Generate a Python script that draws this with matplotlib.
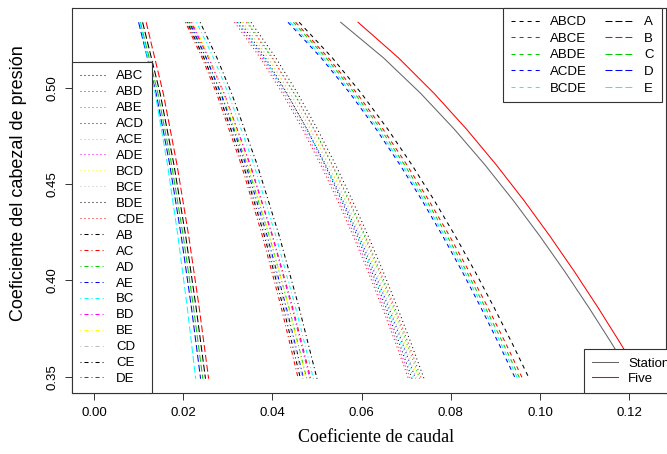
import matplotlib
matplotlib.use("Agg")
import matplotlib.pyplot as plt
from matplotlib.lines import Line2D

plt.rcParams['lines.scale_dashes'] = False
plt.rcParams['font.family'] = ['Liberation Sans', 'DejaVu Sans']

# ---------------- data ----------------
y_single = [0.534, 0.497, 0.460, 0.423, 0.386, 0.349]
y_pair = [0.534, 0.5155, 0.497, 0.460, 0.423, 0.386, 0.349]
y_fine = [0.534, 0.5155, 0.497, 0.4785, 0.460, 0.4415, 0.423, 0.4045,
          0.386, 0.3675, 0.349]

# single fans
A = [0.0109, 0.01483, 0.01793, 0.02056, 0.02289, 0.0250]
B = [0.0117, 0.01554, 0.01861, 0.02124, 0.02358, 0.0257]
C = [0.0104, 0.01434, 0.01741, 0.02001, 0.02231, 0.0244]
D = [0.0100, 0.01394, 0.01699, 0.01956, 0.02184, 0.0239]
E = [0.0103, 0.01374, 0.01648, 0.01882, 0.02091, 0.0228]

# two fans
AB = [0.0238, 0.02757, 0.03087, 0.03660, 0.04155, 0.04597, 0.0500]
AC = [0.0217, 0.02569, 0.02914, 0.03503, 0.04007, 0.04454, 0.0486]
AD = [0.0212, 0.02514, 0.02854, 0.03435, 0.03931, 0.04371, 0.0477]
AE = [0.0214, 0.02516, 0.02843, 0.03404, 0.03884, 0.04311, 0.0470]
BC = [0.0230, 0.02680, 0.03012, 0.03586, 0.04079, 0.04519, 0.0492]
BD = [0.0219, 0.02581, 0.02919, 0.03500, 0.03997, 0.04438, 0.0484]
BE = [0.0222, 0.02587, 0.02908, 0.03462, 0.03938, 0.04363, 0.0475]
CD = [0.0207, 0.02459, 0.02794, 0.03366, 0.03854, 0.04287, 0.0468]
CE = [0.0209, 0.02465, 0.02790, 0.03346, 0.03822, 0.04245, 0.0463]
DE = [0.0205, 0.02425, 0.02749, 0.03303, 0.03777, 0.04198, 0.0458]

# three fans
ABC = [0.0352, 0.04078, 0.04568, 0.05010, 0.05417, 0.05794, 0.06149, 0.06485, 0.06803, 0.07108, 0.0740]
ABD = [0.0342, 0.03989, 0.04487, 0.04935, 0.05345, 0.05726, 0.06083, 0.06420, 0.06741, 0.07047, 0.0734]
ABE = [0.0345, 0.04005, 0.04492, 0.04931, 0.05335, 0.05709, 0.06061, 0.06393, 0.06709, 0.07011, 0.0730]
ACD = [0.0321, 0.03804, 0.04317, 0.04776, 0.05194, 0.05581, 0.05942, 0.06283, 0.06607, 0.06915, 0.0721]
ACE = [0.0323, 0.03812, 0.04316, 0.04767, 0.05179, 0.05561, 0.05918, 0.06254, 0.06574, 0.06878, 0.0717]
ADE = [0.0320, 0.03774, 0.04272, 0.04717, 0.05124, 0.05500, 0.05853, 0.06185, 0.06501, 0.06802, 0.0709]
BCD = [0.0332, 0.03899, 0.04403, 0.04855, 0.05268, 0.05651, 0.06010, 0.06349, 0.06670, 0.06976, 0.0727]
BCE = [0.0334, 0.03907, 0.04402, 0.04847, 0.05254, 0.05632, 0.05986, 0.06320, 0.06637, 0.06940, 0.0723]
BDE = [0.0328, 0.03843, 0.04333, 0.04773, 0.05176, 0.05550, 0.05900, 0.06230, 0.06544, 0.06843, 0.0713]
CDE = [0.0315, 0.03728, 0.04228, 0.04675, 0.05083, 0.05460, 0.05813, 0.06146, 0.06461, 0.06762, 0.0705]

# four fans
ABCD = [0.0460, 0.05345, 0.05998, 0.06587, 0.07127, 0.07630, 0.08101, 0.08546, 0.08969, 0.09373, 0.0976]
ABCE = [0.0452, 0.05256, 0.05900, 0.06481, 0.07014, 0.07509, 0.07974, 0.08413, 0.08830, 0.09228, 0.0961]
ABDE = [0.0447, 0.05206, 0.05850, 0.06430, 0.06962, 0.07456, 0.07919, 0.08357, 0.08773, 0.09170, 0.0955]
ACDE = [0.0435, 0.05095, 0.05744, 0.06327, 0.06861, 0.07356, 0.07820, 0.08258, 0.08673, 0.09070, 0.0945]
BCDE = [0.0440, 0.05143, 0.05791, 0.06374, 0.06908, 0.07403, 0.07867, 0.08306, 0.08722, 0.09119, 0.0950]

# station and five fans
Station = [0.0553, 0.06492, 0.07328, 0.08078, 0.08765, 0.09401, 0.09997, 0.10559, 0.11093, 0.11602, 0.1209]
Five = [0.0592, 0.06828, 0.07629, 0.08353, 0.09019, 0.09640, 0.10222, 0.10774, 0.11298, 0.11799, 0.1228]

single_names = ['A', 'B', 'C', 'D', 'E']
single_vals = [A, B, C, D, E]
pair_names = ['AB', 'AC', 'AD', 'AE', 'BC', 'BD', 'BE', 'CD', 'CE', 'DE']
pair_vals = [AB, AC, AD, AE, BC, BD, BE, CD, CE, DE]
triple_names = ['ABC', 'ABD', 'ABE', 'ACD', 'ACE', 'ADE', 'BCD', 'BCE', 'BDE', 'CDE']
triple_vals = [ABC, ABD, ABE, ACD, ACE, ADE, BCD, BCE, BDE, CDE]
four_names = ['ABCD', 'ABCE', 'ABDE', 'ACDE', 'BCDE']
four_vals = [ABCD, ABCE, ABDE, ACDE, BCDE]

x_ticks = [0.00, 0.02, 0.04, 0.06, 0.08, 0.10, 0.12]
y_ticks = [0.35, 0.40, 0.45, 0.50]

# ---------------- style ----------------
palette = ['#000000', '#FF0000', '#00CD00', '#0000FF', '#00FFFF',
           '#FF00FF', '#FFFF00', '#BEBEBE']
station_color = '#666666'
five_color = '#FF0000'
ls_dashed = (0, (2.9, 2.9))
ls_dotted = (0, (0.72, 2.16))
ls_dotdash = (0, (0.72, 2.16, 2.9, 2.16))
ls_longdash = (0, (5.0, 2.16))
lw = 0.75

W, H = 667, 454
fig = plt.figure(figsize=(W / 100, H / 100), dpi=100)
ax_l, ax_r, ax_t, ax_b = 72, 665.5, 8, 393
ax = fig.add_axes([ax_l / W, 1 - ax_b / H, (ax_r - ax_l) / W, (ax_b - ax_t) / H])

for i, v in enumerate(single_vals):
    ax.plot(v, y_single, color=palette[i % 8], ls=ls_longdash, lw=lw)
for i, v in enumerate(pair_vals):
    ax.plot(v, y_pair, color=palette[i % 8], ls=ls_dotdash, lw=lw)
for i, v in enumerate(triple_vals):
    ax.plot(v, y_fine, color=palette[i % 8], ls=ls_dotted, lw=lw)
for i, v in enumerate(four_vals):
    ax.plot(v, y_fine, color=palette[i % 8], ls=ls_dashed, lw=lw)
ax.plot(Station, y_fine, color=station_color, ls='-', lw=lw)
ax.plot(Five, y_fine, color=five_color, ls='-', lw=lw)

ax.set_xlim(-0.00493, 0.12813)
ax.set_ylim(0.3416, 0.5414)
ax.set_xticks(x_ticks)
ax.set_xticklabels([f'{t:.2f}' for t in x_ticks])
ax.set_yticks(y_ticks)
ax.set_yticklabels([f'{t:.2f}' for t in y_ticks], rotation=90, va='center')
ax.tick_params(direction='out', length=5, width=0.7, labelsize=9.5, pad=5,
               color='#333333')
for s in ax.spines.values():
    s.set_linewidth(0.8)
    s.set_color('#333333')

ax.set_xlabel('Coeficiente de caudal', family=['Liberation Serif', 'DejaVu Serif'],
              fontsize=13)
ax.xaxis.set_label_coords((376 - ax_l) / (ax_r - ax_l), -(437 - ax_b) / (ax_b - ax_t))
ax.xaxis.label.set_va('center')
ax.set_ylabel('Coeficiente del cabezal de presión', fontsize=13)
ax.yaxis.set_label_coords(-(ax_l - 19) / (ax_r - ax_l), (ax_b - 183) / (ax_b - ax_t))
ax.yaxis.label.set_va('center')

legend_kw = dict(frameon=True, fancybox=False, framealpha=1, edgecolor='#333333',
                 fontsize=9.5, borderaxespad=0, handletextpad=0.75, borderpad=0.6)

# left legend: three and two fans
h_left = [Line2D([], [], color=palette[i % 8], ls=ls_dotted, lw=lw)
          for i in range(len(triple_names))]
h_left += [Line2D([], [], color=palette[i % 8], ls=ls_dotdash, lw=lw)
           for i in range(len(pair_names))]
leg1 = ax.legend(h_left, triple_names + pair_names, loc='lower left',
                 bbox_to_anchor=(0, 0), labelspacing=0.28, handlelength=2.0,
                 **legend_kw)
leg1.get_frame().set_linewidth(0.8)
ax.add_artist(leg1)

# top right legend: four fans and single fans
h_tr = [Line2D([], [], color=palette[i % 8], ls=ls_dashed, lw=lw)
        for i in range(len(four_names))]
h_tr += [Line2D([], [], color=palette[i % 8], ls=ls_longdash, lw=lw)
         for i in range(len(single_names))]
x_tr = (503 - ax_l) / (ax_r - ax_l)
leg2 = ax.legend(h_tr, four_names + single_names, loc='upper left', ncol=2,
                 bbox_to_anchor=(x_tr, 1), labelspacing=0.33, columnspacing=1.4,
                 handlelength=2.2, **legend_kw)
leg2.get_frame().set_linewidth(0.8)
ax.add_artist(leg2)

# bottom right legend: station and five
h_br = [Line2D([], [], color=station_color, lw=lw), Line2D([], [], color=five_color, lw=lw)]
x_br = (584 - ax_l) / (ax_r - ax_l)
leg3 = ax.legend(h_br, ['Station', 'Five'], loc='lower left',
                 bbox_to_anchor=(x_br, 0), labelspacing=0.25, handlelength=2.0,
                 **legend_kw)
leg3.get_frame().set_linewidth(0.8)

fig.savefig('out.png', dpi=100)
